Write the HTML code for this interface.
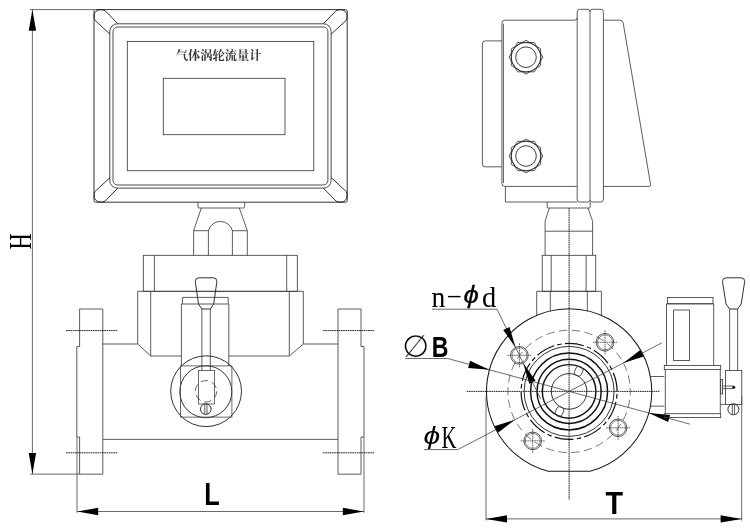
<!DOCTYPE html>
<html lang="zh-CN">
<head>
<meta charset="utf-8">
<title>气体涡轮流量计</title>
<style>
html,body{margin:0;padding:0;background:#fff;}
body{width:750px;height:529px;overflow:hidden;}
svg{display:block;filter:grayscale(1);}
.d line,.d rect,.d circle,.d path{fill:none;stroke:#383838;stroke-width:0.82;}
.d .k{stroke:#1a1a1a;stroke-width:0.9;}
.d .bz{stroke:#383838;stroke-width:0.9;}
.d .g{stroke:#555;stroke-width:0.75;}
.d .h{stroke:#3a3a3a;stroke-width:0.85;}
.d .hc{stroke:#333;stroke-width:0.75;stroke-dasharray:1.7 0.55;}
.d .tk{stroke:#111;stroke-width:1.45;}
.d .dd{stroke:#111;stroke-width:0.9;stroke-dasharray:1.7 0.55;}
.d .ds{stroke:#444;stroke-width:0.8;stroke-dasharray:7.4 3.8;}
.d .lt{stroke:#444;stroke-width:0.8;}
.d .bc{stroke:#555;stroke-width:0.8;stroke-dasharray:8.3 4.52;}
.d .dm{stroke:#3a3a3a;stroke-width:0.75;}
.d .gl{stroke:#2a2a2a;stroke-width:0.9;}
.d .ob{stroke:#333;stroke-width:1;}
.d .fl{stroke:#1a1a1a;stroke-width:1.05;}
.d .dt{stroke:#111;stroke-width:1.2;stroke-dasharray:19.2 3.2 4.5 3.26;}
.d .m{stroke:#333;stroke-width:1;}
.d .ar{fill:#000;stroke:none;}
.d .dot{fill:#111;stroke:none;}
text{fill:#000;stroke:none;}
.se{font-family:"Liberation Serif","Noto Serif CJK SC",serif;}
.sb{font-family:"Liberation Sans","Noto Sans CJK SC",sans-serif;font-weight:bold;}
.phi{font-family:"Liberation Sans","DejaVu Sans",sans-serif;font-style:italic;}
.xl{font-family:"Liberation Sans","DejaVu Sans",sans-serif;}
.cn{font-family:"Liberation Serif","Noto Serif CJK SC",serif;font-weight:700;fill:#333;}
</style>
</head>
<body>
<svg class="d" width="750" height="529" viewBox="0 0 750 529">
<rect x="0" y="0" width="750" height="529" style="fill:#fff;stroke:none"/>
<line x1="30" y1="9.6" x2="94" y2="9.6" class="dm"/>
<line x1="32.4" y1="9.6" x2="32.4" y2="474.1" class="dm"/>
<polygon class="ar" points="32.40,9.80 28.70,30.80 36.10,30.80"/>
<polygon class="ar" points="32.40,474.00 36.10,453.00 28.70,453.00"/>
<line x1="30.2" y1="474.1" x2="79.6" y2="474.1" class="dm"/>
<text class="se" transform="translate(31.3,249.6) rotate(-90) scale(0.69,1)" font-size="32.5">H</text>
<rect x="94" y="9.6" width="253.2" height="192.6" rx="1.5" class="ob"/>
<rect x="109.8" y="23.8" width="221.3" height="164.3" rx="7.5" class="bz"/>
<rect x="113" y="27" width="214.9" height="158" rx="4.5" class="bz"/>
<rect x="127.3" y="41.4" width="186.5" height="129.3"/>
<rect x="163.3" y="78.3" width="121.7" height="56.4"/>
<path d="M323.40 23.70 L336.20 10.60 Q338.30 9.70 341.00 9.70 A6.1 6.1 0 0 1 347.10 15.80 Q347.10 18.40 346.30 20.20 L331.20 34.20" class="k"/>
<path d="M323.40 188.10 L336.20 201.20 Q338.30 202.10 341.00 202.10 A6.1 6.1 0 0 0 347.10 196.00 Q347.10 193.40 346.30 191.60 L331.20 177.60" class="k"/>
<path d="M117.80 23.70 L105.00 10.60 Q102.90 9.70 100.20 9.70 A6.1 6.1 0 0 0 94.10 15.80 Q94.10 18.40 94.90 20.20 L110.00 34.20" class="k"/>
<path d="M117.80 188.10 L105.00 201.20 Q102.90 202.10 100.20 202.10 A6.1 6.1 0 0 1 94.10 196.00 Q94.10 193.40 94.90 191.60 L110.00 177.60" class="k"/>
<text class="cn" x="218.7" y="60.4" font-size="12.25" text-anchor="middle">气体涡轮流量计</text>
<path d="M198 202.3 V207 Q198 208 199 208 H243.7 Q244.7 208 244.7 207 V202.3"/>
<path d="M201.3 208 L193.6 230.7 L193.6 255.3"/>
<path d="M239.3 208 L247.3 230.7 L247.3 255.3"/>
<line x1="193.6" y1="230.7" x2="208.4" y2="230.7"/>
<line x1="232.4" y1="230.7" x2="247.3" y2="230.7"/>
<path d="M208.4 255.3 V230.7 A12.4 12.4 0 0 1 232.4 230.7 V255.3"/>
<rect x="143.3" y="255.3" width="154" height="36"/>
<line x1="154.4" y1="255.3" x2="154.4" y2="291.3"/>
<line x1="286.7" y1="255.3" x2="286.7" y2="291.3"/>
<path d="M181.4 356 L150.7 356 L137.7 344 L137.7 291.3 L303.3 291.3 L303.3 344 L289.3 356 L228.6 356"/>
<line x1="150.7" y1="291.3" x2="150.7" y2="356"/>
<line x1="289.3" y1="291.3" x2="289.3" y2="356"/>
<line x1="102.8" y1="344" x2="137.7" y2="344"/>
<line x1="303.3" y1="344" x2="338" y2="344"/>
<line x1="102.8" y1="439.4" x2="338" y2="439.4"/>
<path d="M79.6 346.5 L79.6 309 L102.8 309 L102.8 474.2 L79.6 474.2 L79.6 437 L76.8 437"/>
<path d="M79.6 346.5 L76.8 346.5 L76.8 437"/>
<line x1="77" y1="437" x2="77" y2="512.8" class="dm"/>
<path d="M361 346.5 L361 309 L338 309 L338 474.2 L361 474.2 L361 437 L364 437"/>
<path d="M361 346.5 L364 346.5 L364 437"/>
<line x1="364" y1="437" x2="364" y2="512.8" class="dm"/>
<line x1="66" y1="330.6" x2="117.7" y2="330.6" class="dd"/>
<line x1="323" y1="330.6" x2="374.7" y2="330.6" class="dd"/>
<line x1="66" y1="452.8" x2="117.7" y2="452.8" class="dd"/>
<line x1="323" y1="452.8" x2="374.7" y2="452.8" class="dd"/>
<path d="M195.3 281.5 Q195.3 277.8 198.8 277.8 H213.4 Q216.9 277.8 216.9 281.5 L213.7 304 L210.3 309 H201.9 L198.5 304 Z" class="k"/>
<line x1="201.9" y1="309" x2="201.9" y2="370.5"/>
<line x1="210.3" y1="309" x2="210.3" y2="370.5"/>
<path d="M182.4 304 L182.4 297.4 L228.2 297.4 L228.2 304"/>
<path d="M181.4 365.8 L181.4 304 L228.8 304 L228.8 365.8"/>
<circle cx="206.1" cy="391.2" r="35.4" class="k"/>
<circle cx="205.8" cy="391.7" r="26" class="k"/>
<rect x="180.5" y="365.9" width="51.4" height="51.2" class="lt"/>
<rect x="198.5" y="370.4" width="15.9" height="33.6" class="lt"/>
<circle cx="206" cy="391.3" r="10.7" class="ds"/>
<circle cx="205.8" cy="409.1" r="5.3" class="k"/>
<line x1="204.8" y1="404.2" x2="204.8" y2="414"/>
<line x1="207" y1="404.2" x2="207" y2="414"/>
<line x1="77" y1="511.5" x2="364" y2="511.5" class="dm"/>
<polygon class="ar" points="77.20,511.50 98.20,515.20 98.20,507.80"/>
<polygon class="ar" points="363.80,511.50 342.80,507.80 342.80,515.20"/>
<text class="sb" transform="translate(204.3,505.4) scale(0.79,1)" font-size="32">L</text>
<path d="M577.2 186.4 Q577.2 186.4 575.2 186.4 H504.8 Q501.9 186.4 501.9 183.4 V23.2 Q501.9 20.2 504.9 20.2 H574.6 Q577.2 20.2 577.2 17.6"/>
<line x1="503.4" y1="23.6" x2="503.4" y2="183"/>
<path d="M501.9 40.9 H485.2 Q482.4 40.9 482.4 43.7 V164 Q482.4 166.8 485.2 166.8 H501.9"/>
<rect x="577.2" y="9.3" width="12.8" height="192.7" rx="2.4"/>
<path d="M590 11.7 Q590 9.3 592.4 9.3 H601 Q603.4 9.3 603.4 11.7 V199.6 Q603.4 202 601 202 H592.4 Q590 202 590 199.6"/>
<path d="M603.4 20.2 H619.8 Q622.6 20.2 623.2 23 L650.6 184.6 Q650.9 186.4 649 186.4 H603.4"/>
<path d="M505.4 186.4 L505.4 202 L577.2 202"/>
<path d="M542.9 57.2 L534.45 71.8358 L517.55 71.8358 L509.1 57.2 L517.55 42.5642 L534.45 42.5642 Z" class="h"/>
<path d="M540.636 65.65 L526 74.1 L511.364 65.65 L511.364 48.75 L526 40.3 L540.636 48.75 Z" class="h"/>
<circle cx="526" cy="57.2" r="14.9" class="gl"/>
<circle cx="526" cy="57.2" r="10.3" class="gl"/>
<path d="M542.9 156 L534.45 170.636 L517.55 170.636 L509.1 156 L517.55 141.364 L534.45 141.364 Z" class="h"/>
<path d="M540.636 164.45 L526 172.9 L511.364 164.45 L511.364 147.55 L526 139.1 L540.636 147.55 Z" class="h"/>
<circle cx="526" cy="156" r="14.9" class="gl"/>
<circle cx="526" cy="156" r="10.3" class="gl"/>
<path d="M547.2 202 V207 Q547.2 208 548.2 208 H589.2 Q590.2 208 590.2 207 V202"/>
<path d="M549.4 208 L545.1 221.2 L545.1 255.3"/>
<path d="M588 208 L592.6 221.2 L592.6 255.3"/>
<line x1="545.1" y1="231.2" x2="592.6" y2="231.2"/>
<rect x="542.2" y="255.3" width="53.5" height="36"/>
<line x1="551.2" y1="255.3" x2="551.2" y2="291.3"/>
<line x1="586.1" y1="255.3" x2="586.1" y2="291.3"/>
<path d="M536.7 316 L536.7 291.3 L601.4 291.3 L601.4 316"/>
<line x1="550.3" y1="291.3" x2="550.3" y2="311.5"/>
<line x1="587.3" y1="291.3" x2="587.3" y2="311.5"/>
<line x1="569.1" y1="208" x2="569.1" y2="499.5" class="dd"/>
<line x1="466.7" y1="391.4" x2="659.3" y2="391.4" class="dd"/>
<path d="M548.15 471.3 A82.6 82.6 0 1 1 590.05 471.3 Z" class="fl"/>
<circle cx="569.1" cy="391.4" r="61.2" class="bc" stroke-dashoffset="4.2"/>
<circle cx="569.1" cy="391.4" r="48" class="dt" stroke-dashoffset="19.7"/>
<circle cx="569.1" cy="391.4" r="45" class="m"/>
<circle cx="569.1" cy="391.4" r="38.5" class="tk"/>
<circle cx="569.1" cy="391.4" r="32.1" class="tk"/>
<circle cx="569.1" cy="391.4" r="26.8" class="tk"/>
<circle cx="569.1" cy="391.4" r="17.8" class="k"/>
<rect x="-4.6" y="-3.7" width="9.4" height="7.4" rx="2.8" transform="translate(578.66,371.36) rotate(-64.5)"/>
<rect x="-4.6" y="-3.7" width="9.4" height="7.4" rx="2.8" transform="translate(559.54,411.44) rotate(115.5)"/>
<circle cx="519.4" cy="355.3" r="8.8" class="h"/>
<circle cx="519.4" cy="355.3" r="7.5" class="g"/>
<line x1="507.4" y1="355.3" x2="531.4" y2="355.3" class="hc"/>
<line x1="519.4" y1="343.3" x2="519.4" y2="367.3" class="hc"/>
<circle cx="605" cy="342.3" r="8.8" class="h"/>
<circle cx="605" cy="342.3" r="7.5" class="g"/>
<line x1="593" y1="342.3" x2="617" y2="342.3" class="hc"/>
<line x1="605" y1="330.3" x2="605" y2="354.3" class="hc"/>
<circle cx="618.1" cy="427.8" r="8.8" class="h"/>
<circle cx="618.1" cy="427.8" r="7.5" class="g"/>
<line x1="606.1" y1="427.8" x2="630.1" y2="427.8" class="hc"/>
<line x1="618.1" y1="415.8" x2="618.1" y2="439.8" class="hc"/>
<circle cx="532.7" cy="440.9" r="8.8" class="h"/>
<circle cx="532.7" cy="440.9" r="7.5" class="g"/>
<line x1="520.7" y1="440.9" x2="544.7" y2="440.9" class="hc"/>
<line x1="532.7" y1="428.9" x2="532.7" y2="452.9" class="hc"/>
<line x1="432" y1="309.2" x2="497" y2="309.2" class="dm"/>
<line x1="497" y1="309.2" x2="540.728" y2="399.193" class="dm"/>
<polygon class="ar" points="515.55,347.38 509.52,326.97 503.23,330.03"/>
<polygon class="ar" points="523.25,363.22 529.28,383.63 535.57,380.57"/>
<text class="se" transform="translate(431.6,307.4) scale(0.92,1)" font-size="30">n</text>
<text class="se" transform="translate(446.3,301.2) scale(1.6,0.6)" font-size="30">-</text>
<text class="phi" style="stroke:#000;stroke-width:0.3" transform="translate(463.5,303.4) scale(1.14,1)" font-size="24.2">ϕ</text>
<text class="se" transform="translate(482,307.4) scale(0.95,1)" font-size="30">d</text>
<line x1="405" y1="358.5" x2="447.6" y2="358.5" class="dm"/>
<line x1="447.6" y1="358.5" x2="690" y2="424.138" class="dm"/>
<polygon class="ar" points="489.37,369.81 470.07,360.75 468.13,367.89"/>
<polygon class="ar" points="648.83,412.99 668.13,422.05 670.07,414.91"/>
<text class="xl" style="stroke:#fff;stroke-width:0.3" transform="translate(402.2,357) scale(1,1)" font-size="31">∅</text>
<text class="sb" transform="translate(431.8,356.6) scale(0.77,1)" font-size="30">B</text>
<line x1="424" y1="449.6" x2="457.8" y2="449.6" class="dm"/>
<line x1="457.8" y1="449.6" x2="661.7" y2="342.978" class="dm"/>
<polygon class="ar" points="514.87,419.76 494.54,426.21 497.97,432.77"/>
<polygon class="ar" points="623.33,363.04 643.66,356.59 640.23,350.03"/>
<text class="phi" transform="translate(423.4,444) scale(1.24,1)" font-size="24.2">ϕ</text>
<text class="se" transform="translate(441.4,448) scale(0.68,1)" font-size="30.5">K</text>
<rect x="667.4" y="297.4" width="45.6" height="6.4"/>
<path d="M666.5 365.4 L666.5 303.8 L713.7 303.8 L713.7 365.4"/>
<rect x="673.6" y="310" width="15.9" height="50.6"/>
<rect x="664.3" y="365.4" width="56.4" height="4"/>
<path d="M665.3 369.4 L665.3 413.7"/>
<path d="M720.3 369.4 L720.3 413.7"/>
<rect x="664.3" y="413.7" width="56.4" height="3.9"/>
<line x1="651" y1="376.5" x2="664.3" y2="376.5"/>
<line x1="651" y1="406.2" x2="664.3" y2="406.2"/>
<rect x="720.7" y="379.5" width="1.9" height="14.5"/>
<rect x="725.6" y="370.5" width="16.2" height="33.9"/>
<line x1="720.7" y1="404.4" x2="725.6" y2="404.4"/>
<line x1="722.6" y1="386" x2="733.5" y2="386"/>
<line x1="722.6" y1="388.6" x2="733.5" y2="388.6"/>
<circle cx="733.8" cy="387.3" r="1.5" class="dot"/>
<circle cx="733.4" cy="409.3" r="5.5" class="k"/>
<line x1="732.3" y1="404" x2="732.3" y2="414.6"/>
<line x1="734.6" y1="404" x2="734.6" y2="414.6"/>
<path d="M722.5 281.5 Q722.5 277.8 726 277.8 H741.2 Q744.7 277.8 744.7 281.5 L741.2 304 L737.6 309 H729.6 L726 304 Z" class="k"/>
<line x1="729.6" y1="309" x2="729.6" y2="370.5"/>
<line x1="737.6" y1="309" x2="737.6" y2="370.5"/>
<line x1="486" y1="396.5" x2="486" y2="520.5" class="dm"/>
<line x1="741.7" y1="396.5" x2="741.7" y2="520.5" class="dm"/>
<line x1="486" y1="518.9" x2="741.7" y2="518.9" class="dm"/>
<polygon class="ar" points="486.00,518.90 507.00,522.60 507.00,515.20"/>
<polygon class="ar" points="741.60,518.90 720.60,515.20 720.60,522.60"/>
<text class="sb" transform="translate(605.6,513.6) scale(0.905,1)" font-size="31.7">T</text>
</svg>
</body>
</html>
